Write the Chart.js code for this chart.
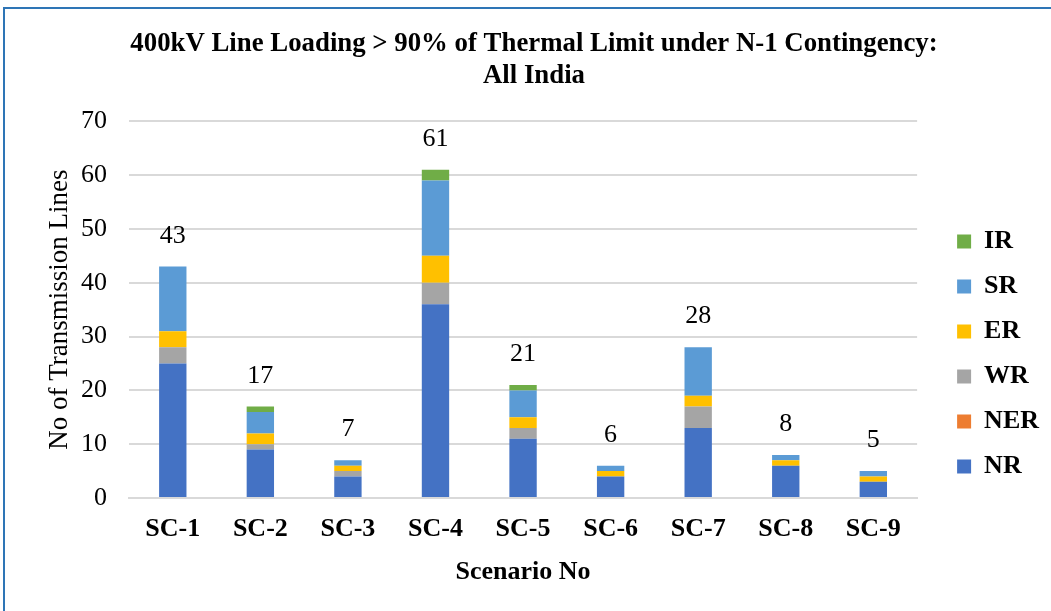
<!DOCTYPE html>
<html>
  <head>
    <title>400kV Line Loading</title>
    <script src="https://cdn.jsdelivr.net/npm/chart.js"></script>
    <style>
      body { margin: 0; background: #fff; }
      #wrap { position: relative; width: 1051px; height: 611px; }
      #frame {
        position: absolute; left: 3px; top: 7px; width: 1060px; height: 620px;
        border: 2px solid #2e75b6; pointer-events: none;
      }
    </style>
  </head>
  <body>
    <div id="wrap">
      <canvas id="myChart" width="1051" height="611"></canvas>
      <div id="frame"></div>
    </div>
<script>
// scenari e numero di linee per regione
const scenari = ["SC-1", "SC-2", "SC-3", "SC-4", "SC-5", "SC-6", "SC-7", "SC-8", "SC-9"];
const nr  = [25, 9, 4, 36, 11, 4, 13, 6, 3];
const ner = [0, 0, 0, 0, 0, 0, 0, 0, 0];
const wr  = [3, 1, 1, 4, 2, 0, 4, 0, 0];
const er  = [3, 2, 1, 5, 2, 1, 2, 1, 1];
const sr  = [12, 4, 1, 14, 5, 1, 9, 1, 1];
const ir  = [0, 1, 0, 2, 1, 0, 0, 0, 0];
const totali = [43, 17, 7, 61, 21, 6, 28, 8, 5];
const yTicks = [0, 10, 20, 30, 40, 50, 60, 70];

const serif = "'Liberation Serif', 'Times New Roman', serif";

// scrive il totale sopra ogni colonna
const totalLabels = {
  id: "totalLabels",
  afterDatasetsDraw(chart) {
    const ctx = chart.ctx;
    const y = chart.scales.y;
    const x = chart.scales.x;
    ctx.save();
    ctx.font = "26px " + serif;
    ctx.fillStyle = "#000";
    ctx.textAlign = "center";
    ctx.textBaseline = "alphabetic";
    totali.forEach((t, i) => {
      ctx.fillText(String(t), x.getPixelForValue(i), y.getPixelForValue(t) - 24);
    });
    ctx.restore();
  }
};

// sposta la legenda a destra e in basso come nell'originale
const spostaLegenda = {
  id: "spostaLegenda",
  afterLayout(chart) {
    const l = chart.legend;
    l.left += 21; l.right += 21;
    l.top += 44; l.bottom += 44;
  }
};

function ds(label, data, color) {
  return { label: label, data: data, backgroundColor: color, borderWidth: 0,
           barPercentage: 0.625, categoryPercentage: 0.5 };
}

const ctx = document.getElementById("myChart").getContext("2d");
const chart = new Chart(ctx, {
  type: "bar",
  data: {
    labels: scenari,
    datasets: [
      ds("NR", nr, "#4472C4"),
      ds("NER", ner, "#ED7D31"),
      ds("WR", wr, "#A5A5A5"),
      ds("ER", er, "#FFC000"),
      ds("SR", sr, "#5B9BD5"),
      ds("IR", ir, "#70AD47"),
    ],
  },
  options: {
    responsive: false,
    animation: false,
    layout: { padding: { left: 40, right: 23, top: 28, bottom: 19 } },
    plugins: {
      title: {
        display: true,
        text: ["400kV Line Loading > 90% of Thermal Limit under N-1 Contingency:", "All India"],
        color: "#000",
        font: { family: serif, size: 26.8, weight: "bold", lineHeight: 1.2 },
        padding: { top: 0, bottom: 29 },
      },
      legend: {
        position: "right",
        reverse: true,
        labels: {
          color: "#000",
          font: { family: serif, size: 26, weight: "bold" },
          boxWidth: 14,
          boxHeight: 14,
          padding: 19,
        },
      },
      tooltip: { enabled: false },
    },
    scales: {
      x: {
        stacked: true,
        afterFit: (axis) => { axis.height = 94; },
        grid: { display: false, drawTicks: false },
        border: { color: "#d9d9d9", width: 2 },
        ticks: { color: "#000", font: { family: serif, size: 26, weight: "bold" }, padding: 16 },
        title: {
          display: true,
          text: "Scenario No",
          color: "#000",
          font: { family: serif, size: 26, weight: "bold" },
          padding: { top: 2, bottom: 4 },
        },
      },
      y: {
        stacked: true,
        min: 0,
        max: 70,
        afterBuildTicks: (axis) => { axis.ticks = yTicks.map(v => ({ value: v })); },
        afterFit: (axis) => { axis.width = 89; },
        grid: { color: "#d9d9d9", lineWidth: 2, drawTicks: false },
        border: { display: false },
        ticks: { color: "#000", font: { family: serif, size: 26 }, padding: 22 },
        title: {
          display: true,
          text: "No of Transmission Lines",
          color: "#000",
          font: { family: serif, size: 27 },
          padding: { top: 4, bottom: 4 },
        },
      },
    },
  },
  plugins: [totalLabels, spostaLegenda],
});
</script>
  </body>
</html>
